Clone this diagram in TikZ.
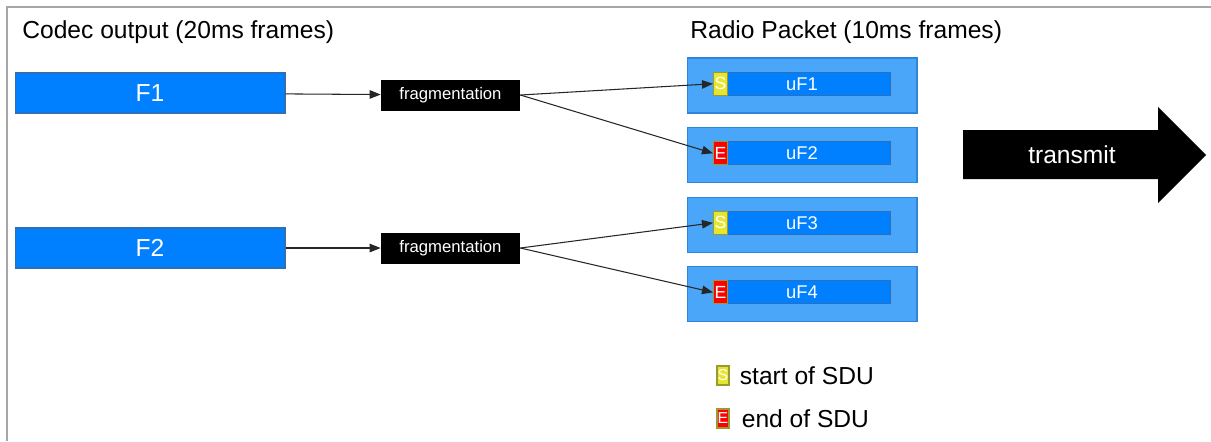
\documentclass[tikz,border=0pt]{standalone}
\usepackage{fontspec}
\setmainfont{Liberation Sans}
\usepackage{tikz}
\usetikzlibrary{arrows.meta,positioning}
\definecolor{frameblue}{HTML}{0080FF}
\definecolor{frameedge}{HTML}{2F6FB8}
\definecolor{pktblue}{HTML}{4AA6F8}
\definecolor{pktedge}{HTML}{2D86D9}
\definecolor{startyel}{HTML}{E6E62E}
\definecolor{markedge}{HTML}{9A9A30}
\definecolor{endred}{HTML}{FF0000}
\definecolor{framegray}{HTML}{A6A6A6}
\definecolor{ink}{HTML}{262626}
\tikzset{
  codec/.style ={draw=frameedge,line width=0.6pt,fill=frameblue,text=white,
                 minimum width=5.4cm,minimum height=0.8cm,
                 font=\fontsize{14}{16}\selectfont},
  frag/.style  ={fill=black,text=white,minimum width=2.78cm,minimum height=0.62cm,
                 inner sep=0pt,font=\fontsize{9.5}{11}\selectfont},
  packet/.style={draw=pktedge,line width=0.6pt,fill=pktblue,
                 minimum width=4.6cm,minimum height=1.1cm},
  ufrag/.style ={draw=frameedge,line width=0.6pt,fill=frameblue,text=white,
                 minimum width=3.54cm,minimum height=0.46cm,inner sep=0pt,
                 font=\fontsize{10.5}{12}\selectfont},
  smark/.style ={draw=markedge,line width=0.6pt,fill=startyel,text=white,
                 minimum width=0.28cm,minimum height=0.46cm,inner sep=0pt,
                 font=\fontsize{10}{11}\selectfont},
  emark/.style ={smark,fill=endred},
  heading/.style={font=\fontsize{14}{16}\selectfont,inner sep=0pt,anchor=west},
  flow/.style  ={-{Triangle[length=2.2mm,width=1.7mm]},line width=0.6pt,draw=ink}
}

\begin{document}
\begin{tikzpicture}[x=0.02cm,y=-0.02cm,node distance=0.27cm]
  \useasboundingbox (0,0) rectangle (1211,441);
  \draw[framegray,line width=1.2pt] (7,441) -- (7,7) -- (1211,7);

  \node[heading] (codechead) at (22,32) {Codec output (20ms frames)};
  \node[heading] (radiohead) at (690,32) {Radio Packet (10ms frames)};

  \node[codec] (f1) at (150,93) {F1};
  \node[codec] (f2) at (150,248) {F2};
  \node[frag] (frag1) at (450.5,95) {fragmentation};
  \node[frag] (frag2) at (450.5,248) {fragmentation};

  \node[packet] (pkt1) at (802,85.5) {};
  \node[packet,below=of pkt1] (pkt2) {};
  \node[packet,below=of pkt2] (pkt3) {};
  \node[packet,below=of pkt3] (pkt4) {};
  \foreach \i/\mk/\ch in {1/smark/S,2/emark/E,3/smark/S,4/emark/E}{
    \node[ufrag] (uf\i) at ([yshift=1pt]pkt\i.center) {uF\i};
    \node[\mk,anchor=west] (mk\i) at (uf\i.west) {\ch};
  }

  \draw[flow] (f1) -- (frag1);
  \draw[flow] (f2) -- (frag2);
  \draw[flow] (frag1.east) -- (mk1.west);
  \draw[flow] (frag1.east) -- (mk2.west);
  \draw[flow] (frag2.east) -- (mk3.west);
  \draw[flow] (frag2.east) -- (mk4.west);

  % transmit arrow
  \fill[black] (963,130) -- (1158,130) -- (1158,107) -- (1206,155)
    -- (1158,203) -- (1158,179) -- (963,179) -- cycle;
  \node[heading,anchor=center,text=white] (transmit) at (1072,155) {transmit};

  % legend
  \node[smark,minimum width=0.24cm,minimum height=0.38cm,
        font=\fontsize{9}{10}\selectfont] (keys) at (723,375.5) {S};
  \node[heading,right=0.2cm of keys] (keystext) {start of SDU};
  \node[emark,minimum width=0.24cm,minimum height=0.38cm,
        font=\fontsize{9}{10}\selectfont] (keye) at (723,418.5) {E};
  \node[heading,right=0.24cm of keye] (keyetext) {end of SDU};
\end{tikzpicture}
\end{document}
